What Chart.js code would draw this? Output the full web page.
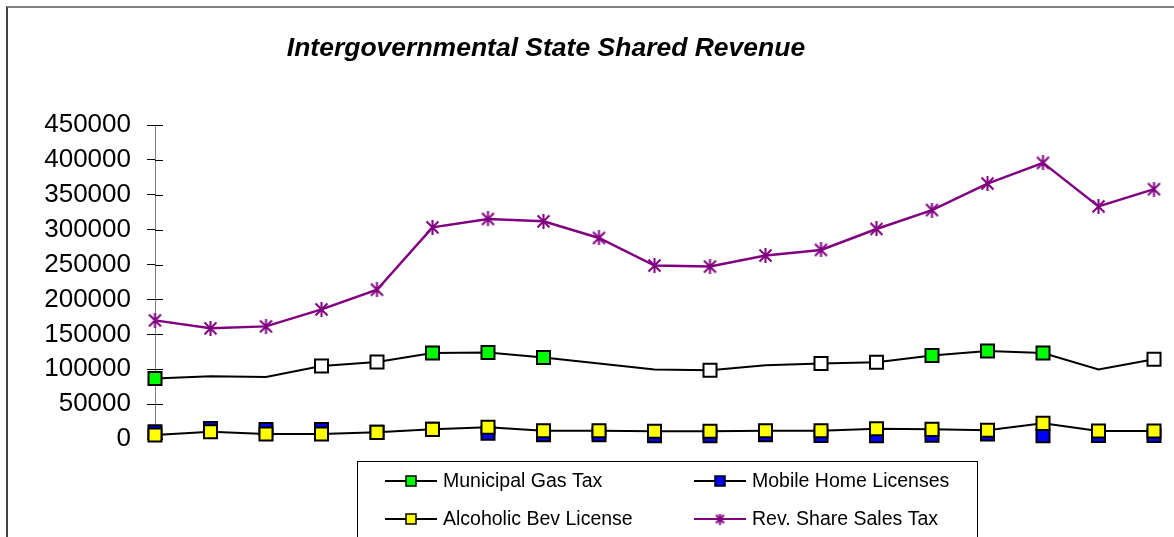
<!DOCTYPE html>
<html>
<head>
<meta charset="utf-8">
<title>Intergovernmental State Shared Revenue</title>
<script src="https://cdn.jsdelivr.net/npm/chart.js@4.4.1/dist/chart.umd.min.js"></script>
<style>
    html, body { margin: 0; padding: 0; background: #fff; overflow: hidden; }
    .frame {
        position: absolute; left: 6px; top: 6px; width: 1168px; height: 531px;
        box-sizing: border-box;
        border-top: 2px solid #808080; border-left: 2px solid #404040;
    }
    canvas { display: block; }
</style>
</head>
<body>
<div class="frame"><canvas id="revChart" width="1166" height="529"></canvas></div>
<script>
var chartTitle = 'Intergovernmental State Shared Revenue';
var periods = ['1', '2', '3', '4', '5', '6', '7', '8', '9', '10', '11', '12', '13', '14', '15', '16', '17', '18', '19'];
var yTicks = [0, 50000, 100000, 150000, 200000, 250000, 300000, 350000, 400000, 450000];

var gasTax = [86700, 90000, 89000, 104700, 110400, 123300, 123800, 116700, 108100, 99500,
    98600, 105700, 108100, 110000, 119500, 126200, 123300, 99500, 114300];
var mobileHome = [10400, 15000, 13600, 13600, 9500, 13800, 8100, 6100, 6100, 4700,
    4700, 6100, 5000, 4700, 5500, 7000, 4700, 5000, 5000];
var alcoholicBev = [5700, 10400, 7100, 7100, 9500, 13800, 16700, 11900, 11900, 11000,
    11000, 11900, 11900, 14700, 13800, 12400, 22400, 11400, 11400];
var salesTax = [170000, 158600, 161400, 185700, 213900, 303300, 315300, 311900, 288100, 248600,
    247100, 262900, 271000, 301000, 328100, 366100, 395700, 333300, 358100];

// the gas tax series has mixed markers in the original: green, hollow or none
var G = '#00ff00', W = '#ffffff', N = null;
var gasMarkers = [G, N, N, W, W, G, G, G, N, N, W, N, W, W, G, G, G, N, W];

var FONT = 'Arial, "Liberation Sans", sans-serif';

function makeStar(size, color) {
    var c = document.createElement('canvas');
    c.width = size; c.height = size;
    var g = c.getContext('2d');
    g.strokeStyle = color;
    g.lineWidth = 2;
    var p = 1.5, q = size - 1.5, m = size / 2;
    g.beginPath();
    g.moveTo(m, 0); g.lineTo(m, size);
    g.moveTo(p, p); g.lineTo(q, q);
    g.moveTo(q, p); g.lineTo(p, q);
    g.stroke();
    return c;
}
var star = makeStar(15, '#800080');
var smallStar = makeStar(11, '#800080');

var titlePlugin = {
    id: 'chartTitle',
    afterDraw: function (chart) {
        var ctx = chart.ctx;
        ctx.save();
        ctx.font = 'italic bold 26.5px ' + FONT;
        ctx.fillStyle = '#000';
        ctx.textAlign = 'center';
        ctx.textBaseline = 'alphabetic';
        ctx.fillText(chartTitle, 538, 48);
        ctx.restore();
    }
};

var innerTicks = {
    id: 'innerTicks',
    beforeDatasetsDraw: function (chart) {
        var s = chart.scales.y, ctx = chart.ctx;
        ctx.save();
        ctx.strokeStyle = '#000';
        ctx.lineWidth = 1;
        ctx.beginPath();
        s.ticks.forEach(function (t) {
            var y = Math.round(s.getPixelForValue(t.value)) + 0.5;
            ctx.moveTo(s.right, y);
            ctx.lineTo(s.right + 8, y);
        });
        ctx.stroke();
        ctx.restore();
    }
};

var boxLegend = {
    id: 'boxLegend',
    afterDraw: function (chart) {
        var ctx = chart.ctx;
        var spots = [[377, 473], [686, 473], [377, 511], [686, 511]];
        ctx.save();
        ctx.strokeStyle = '#000';
        ctx.lineWidth = 1;
        ctx.strokeRect(349.5, 453.5, 620, 200);
        ctx.font = '19.5px ' + FONT;
        ctx.textBaseline = 'middle';
        chart.data.datasets.forEach(function (ds, i) {
            var x = spots[i][0], y = spots[i][1];
            ctx.strokeStyle = ds.borderColor;
            ctx.lineWidth = 2;
            ctx.beginPath();
            ctx.moveTo(x, y);
            ctx.lineTo(x + 52, y);
            ctx.stroke();
            if (ds.pointStyle === star) {
                ctx.drawImage(smallStar, x + 26 - 5.5, y - 5.5);
            } else {
                ctx.fillStyle = ds.backgroundColor;
                ctx.strokeStyle = '#000';
                ctx.lineWidth = 1.5;
                ctx.fillRect(x + 21, y - 5, 10, 10);
                ctx.strokeRect(x + 21, y - 5, 10, 10);
            }
            ctx.fillStyle = '#000';
            ctx.fillText(ds.label, x + 58, y + 1);
        });
        ctx.restore();
    }
};

new Chart('revChart', {
    type: 'line',
    data: {
        labels: periods,
        datasets: [{
            label: 'Municipal Gas Tax',
            data: gasTax,
            borderColor: '#000',
            backgroundColor: G,
            borderWidth: 2,
            pointStyle: 'rect',
            pointRadius: gasMarkers.map(function (c) { return c ? 9.2 : 0; }),
            pointBackgroundColor: gasMarkers.map(function (c) { return c || W; }),
            pointBorderColor: '#000',
            pointBorderWidth: 2,
            order: 4
        },
        {
            // its connecting line does not show in the original, only the markers
            label: 'Mobile Home Licenses',
            data: mobileHome,
            borderColor: '#000',
            backgroundColor: '#0000ff',
            borderWidth: 2,
            showLine: false,
            pointStyle: 'rect',
            pointRadius: 9.2,
            pointBackgroundColor: '#0000ff',
            pointBorderColor: '#000',
            pointBorderWidth: 2,
            order: 3
        },
        {
            label: 'Alcoholic Bev License',
            data: alcoholicBev,
            borderColor: '#000',
            backgroundColor: '#ffff00',
            borderWidth: 2,
            pointStyle: 'rect',
            pointRadius: 9.2,
            pointBackgroundColor: '#ffff00',
            pointBorderColor: '#000',
            pointBorderWidth: 2,
            order: 2
        },
        {
            label: 'Rev. Share Sales Tax',
            data: salesTax,
            borderColor: '#800080',
            backgroundColor: '#800080',
            borderWidth: 2.5,
            pointStyle: star,
            pointRadius: 7,
            order: 1
        }]
    },
    options: {
        responsive: false,
        animation: false,
        events: [],
        clip: false,
        elements: { line: { tension: 0, fill: false } },
        layout: { padding: { left: 0, right: 20, top: 117, bottom: 98 } },
        plugins: {
            legend: { display: false },
            title: { display: false },
            tooltip: { enabled: false }
        },
        scales: {
            x: { display: false },
            y: {
                min: 0,
                max: 450000,
                afterFit: function (scale) { scale.width = 147; },
                afterBuildTicks: function (scale) {
                    scale.ticks = yTicks.map(function (v) { return { value: v }; });
                },
                border: { display: true, color: '#808080', width: 1 },
                grid: { drawOnChartArea: false, tickLength: 8, color: '#000' },
                ticks: {
                    padding: 16,
                    color: '#000',
                    font: { family: FONT, size: 26 },
                    callback: function (v) { return String(v); }
                }
            }
        }
    },
    plugins: [titlePlugin, innerTicks, boxLegend]
});
</script>
</body>
</html>
